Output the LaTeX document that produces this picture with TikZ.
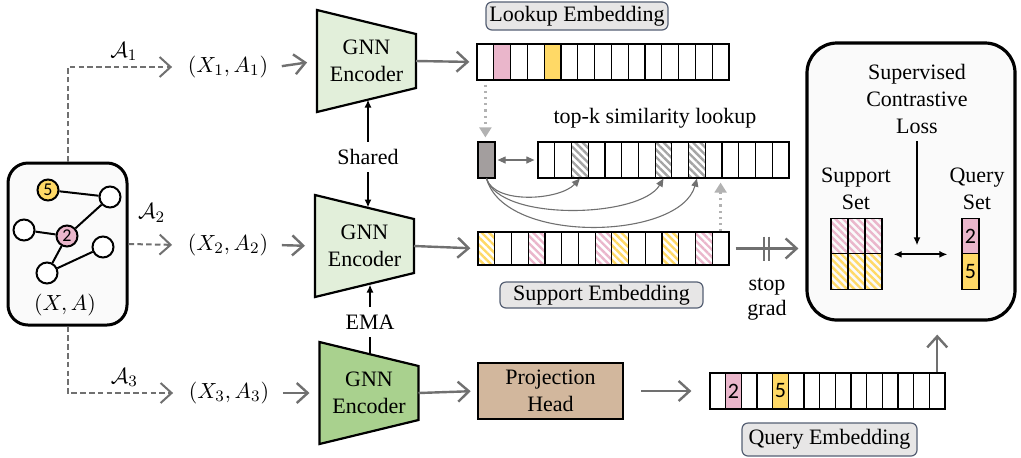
\documentclass[tikz,border=0pt]{standalone}
\usepackage{fontspec}
\setmainfont{Liberation Serif}
\newfontfamily\numfont{Carlito}
\usetikzlibrary{arrows.meta,patterns.meta}

\definecolor{pinkc}{RGB}{234,182,203}
\definecolor{yellowc}{RGB}{255,217,102}
\definecolor{greenl}{RGB}{226,239,218}
\definecolor{greend}{RGB}{169,209,142}
\definecolor{tanc}{RGB}{210,183,157}
\definecolor{arrowgray}{RGB}{112,112,112}
\definecolor{dotgray}{RGB}{178,178,178}
\definecolor{hatchgray}{RGB}{165,165,165}
\definecolor{darkcell}{RGB}{163,158,158}
\definecolor{labelfill}{RGB}{231,230,230}
\definecolor{labeldraw}{RGB}{85,95,115}
\definecolor{boxfill}{RGB}{250,250,250}

\tikzset{
  cell/.style={draw, line width=0.6pt, inner sep=0pt, minimum height=18pt},
  hatchpink/.style={pattern={Lines[angle=-45,distance=2.6pt,line width=1.2pt]}, pattern color=pinkc},
  hatchyellow/.style={pattern={Lines[angle=-45,distance=2.6pt,line width=1.2pt]}, pattern color=yellowc},
  hatchgray/.style={pattern={Lines[angle=-45,distance=2.6pt,line width=1.2pt]}, pattern color=hatchgray},
  garrow/.style={draw=arrowgray, line width=1.2pt, -{Straight Barb[length=5.5pt,width=10pt]}},
  darrow/.style={draw=arrowgray, line width=1pt, dash pattern=on 2.8pt off 1.6pt, -{Straight Barb[length=5.5pt,width=10pt]}},
  dotarrow/.style={draw=dotgray, line width=1.1pt, dotted, -{Triangle[length=5pt,width=6pt]}},
  thinarrow/.style={draw=arrowgray, line width=0.55pt, -{Triangle[length=4pt,width=3.5pt]}},
  blkarrow/.style={draw=black, line width=1pt, -{Latex[length=4pt,width=3.5pt]}},
  embtag/.style={draw=labeldraw, fill=labelfill, line width=0.6pt, rounded corners=3pt, inner sep=0pt},
  gnode/.style={circle, draw, line width=1pt, fill=white, minimum size=10.5pt, inner sep=0pt, font=\numfont\fontsize{9}{9}\selectfont},
  encoder/.style={draw, line width=1.1pt},
  enctext/.style={align=center, inner sep=0pt}
}

% trapezoid encoder: name, x, y, fill
\newcommand{\gnnenc}[4]{
  \draw[encoder, fill=#4] ({#2-49.5},{#3-51}) -- ({#2+49.5},{#3-27}) -- ({#2+49.5},{#3+27}) -- ({#2-49.5},{#3+51}) -- cycle;
  \node[enctext] (#1) at (#2,#3) {GNN\\Encoder};
  \coordinate (#1w) at ({#2-49.5},#3);
  \coordinate (#1e) at ({#2+49.5},#3);
  \coordinate (#1n) at ({#2+2},{#3-38.5});
  \coordinate (#1s) at ({#2+2},{#3+38.5});
}

\begin{document}
\begin{tikzpicture}[x=0.5pt, y=-0.5pt]
	\fontsize{11}{13.5}\selectfont
	\useasboundingbox (0,0) rectangle (1021,457);

	% input graph
	\node[draw, line width=1.5pt, fill=boxfill, rounded corners=10pt, minimum width=59.5pt, minimum height=81pt] (graphbox) at (67.5,244) {};
	\node (xa) at (65,305) {$(X,A)$};
	\node[gnode, fill=yellowc] (g5) at (48,190) {5};
	\node[gnode] (gtr) at (110,197) {};
	\node[gnode] (gl) at (24,230) {};
	\node[gnode, fill=pinkc] (g2) at (67,236) {2};
	\node[gnode] (gr) at (103,247) {};
	\node[gnode] (gb) at (47,273) {};
	\draw[line width=1pt] (g5) -- (gtr);
	\draw[line width=1pt] (gtr) -- (g2);
	\draw[line width=1pt] (gl) -- (g2);
	\draw[line width=1pt] (g2) -- (gb);
	\draw[line width=1pt] (gb) -- (gr);

	% augmented views
	\node (x1) at (228,67) {$(X_1,A_1)$};
	\node (x2) at (228,245) {$(X_2,A_2)$};
	\node (x3) at (229,393) {$(X_3,A_3)$};
	\draw[darrow, shorten >=4pt] (graphbox.north) |- node[pos=0.75, above=-1pt] {$\mathcal{A}_1$} (x1.west);
	\draw[darrow, shorten >=4pt] (graphbox.east) -- node[pos=0.45, above=7pt] {$\mathcal{A}_2$} (x2.west);
	\draw[darrow, shorten >=4pt] (graphbox.south) |- node[pos=0.75, above=-1pt] {$\mathcal{A}_3$} (x3.west);

	% encoders
	\gnnenc{enc1}{366.5}{61}{greenl}
	\gnnenc{enc2}{364.5}{246}{greenl}
	\gnnenc{enc3}{369}{393}{greend}
	\draw[garrow, shorten <=3pt, shorten >=5pt] (x1.east) -- (enc1w);
	\draw[garrow, shorten <=3pt, shorten >=5pt] (x2.east) -- (enc2w);
	\draw[garrow, shorten <=3pt, shorten >=5pt] (x3.east) -- (enc3w);

	\node (shared) at (368,157) {Shared};
	\draw[blkarrow] (shared.north) -- (shared.north |- enc1s);
	\draw[blkarrow] (shared.south) -- (shared.south |- enc2n);
	\node (ema) at (370,322) {EMA};
	\draw[line width=1pt] (ema.south |- enc3n) -- (ema.south);
	\draw[blkarrow] (ema.north) -- (ema.north |- enc2s);

	% lookup embedding
	\node[embtag, minimum width=91pt, minimum height=14pt] (lktag) at (577,16) {Lookup Embedding};
	\foreach \i in {1,...,15}
		\node[cell, minimum width=8.4pt] (lk\i) at ({477+16.8*(\i-0.5)},62) {};
	\node[cell, minimum width=8.4pt, fill=pinkc] at (lk2) {};
	\node[cell, minimum width=8.4pt, fill=yellowc] at (lk5) {};
	\draw[garrow, shorten >=3.5pt] (enc1e) -- (lk1.west);

	% top-k similarity lookup
	\node (topk) at (655,118) {top-k similarity lookup};
	\node[cell, minimum width=8.5pt, fill=darkcell] (qc) at (486.5,160) {};
	\foreach \i in {1,...,15}
		\node[cell, minimum width=8.37pt] (tk\i) at ({538+16.73*(\i-0.5)},160) {};
	\node[cell, minimum width=8.37pt, hatchgray] at (tk3) {};
	\node[cell, minimum width=8.37pt, hatchgray] at (tk8) {};
	\node[cell, minimum width=8.37pt, hatchgray] at (tk10) {};
	\draw[thinarrow, {Triangle[length=4pt,width=3.5pt]}-{Triangle[length=4pt,width=3.5pt]}, shorten <=1pt, shorten >=1.5pt] (qc.east) -- (tk1.west);
	\draw[dotarrow, shorten <=2pt, shorten >=2pt] (lk1.south) -- (lk1.south |- qc.north);
	\draw[thinarrow] (qc.south) .. controls (495,205) and (560,200) .. (tk3.south);
	\draw[thinarrow] (qc.south) .. controls (500,222) and (640,218) .. (tk8.south);
	\draw[thinarrow] (qc.south) .. controls (505,245) and (680,240) .. (tk10.south);

	% support embedding
	\foreach \i in {1,...,15}
		\node[cell, minimum width=8.37pt, minimum height=16.5pt] (sp\i) at ({478+16.73*(\i-0.5)},248.5) {};
	\foreach \i in {1,9,12}
		\node[cell, minimum width=8.37pt, minimum height=16.5pt, hatchyellow] at (sp\i) {};
	\foreach \i in {4,8,14}
		\node[cell, minimum width=8.37pt, minimum height=16.5pt, hatchpink] at (sp\i) {};
	\draw[garrow, shorten >=3.5pt] (enc2e) -- (sp1.west);
	\draw[dotarrow, shorten >=2pt] (sp15.north) -- (sp15.north |- tk1.south);
	\node[embtag, minimum width=101.5pt, minimum height=13pt] (sptag) at (601.5,295) {Support Embedding};

	% projection and query embedding
	\node[draw, line width=1.3pt, fill=tanc, minimum width=72.5pt, minimum height=28pt, align=center, inner sep=0pt] (proj) at (550.5,391) {Projection\\Head};
	\draw[garrow, shorten >=3pt] (enc3e) -- (proj.west);
	\foreach \i in {1,...,15}
		\node[cell, minimum width=7.83pt] (qe\i) at ({710+15.67*(\i-0.5)},391) {};
	\node[cell, minimum width=7.83pt, fill=pinkc, font=\numfont] at (qe2) {2};
	\node[cell, minimum width=7.83pt, fill=yellowc, font=\numfont] at (qe5) {5};
	\draw[garrow, shorten <=8.5pt, shorten >=9pt] (proj.east) -- (qe1.west);
	\node[embtag, minimum width=87.5pt, minimum height=16.5pt] (qetag) at (829.5,439.5) {Query Embedding};

	% loss
	\node[draw, line width=1.6pt, fill=boxfill, rounded corners=15pt, minimum width=104pt, minimum height=138.5pt] (lossbox) at (911,181.5) {};
	\node[align=center] (suploss) at (917,99) {Supervised\\Contrastive\\Loss};
	\node[align=center] (supset) at (856,188.5) {Support\\Set};
	\node[align=center] (qryset) at (977,188.5) {Query\\Set};
	\foreach \c in {1,2,3} {
		\node[cell, minimum width=8.5pt, minimum height=17.75pt, hatchpink] (ss1\c) at ({831+17*(\c-0.5)},236) {};
		\node[cell, minimum width=8.5pt, minimum height=17.75pt, hatchyellow] (ss2\c) at ({831+17*(\c-0.5)},271.5) {};
	}
	\node[cell, minimum width=8.5pt, minimum height=17.75pt, fill=pinkc, font=\numfont] (qs1) at (970.5,236) {2};
	\node[cell, minimum width=8.5pt, minimum height=17.75pt, fill=yellowc, font=\numfont] (qs2) at (970.5,271.5) {5};
	\draw[blkarrow, shorten >=4.5pt] (suploss.south) -- (suploss.south |- qs1.south);
	\draw[blkarrow, {Latex[length=4pt,width=3.5pt]}-{Latex[length=4pt,width=3.5pt]}, shorten <=5.5pt, shorten >=7pt] (ss13.south east) -- (ss13.south east -| qs1.west);

	% stop grad
	\draw[garrow, shorten <=3pt, shorten >=3.5pt] (sp15.east) -- (sp15.east -| lossbox.west);
	\coordinate (sg) at (766.5,248.5);
	\draw[arrowgray, line width=1pt] ([xshift=-1.3pt,yshift=6pt]sg) -- ([xshift=-1.3pt,yshift=-6pt]sg);
	\draw[arrowgray, line width=1pt] ([xshift=1.3pt,yshift=6pt]sg) -- ([xshift=1.3pt,yshift=-6pt]sg);
	\node[align=center, font=\fontsize{11}{12.5}\selectfont] (stopgrad) at (767,299) {stop\\grad};
	\draw[garrow, shorten >=6.5pt] (qe15.north) -- (qe15.north |- lossbox.south);

\end{tikzpicture}
\end{document}
